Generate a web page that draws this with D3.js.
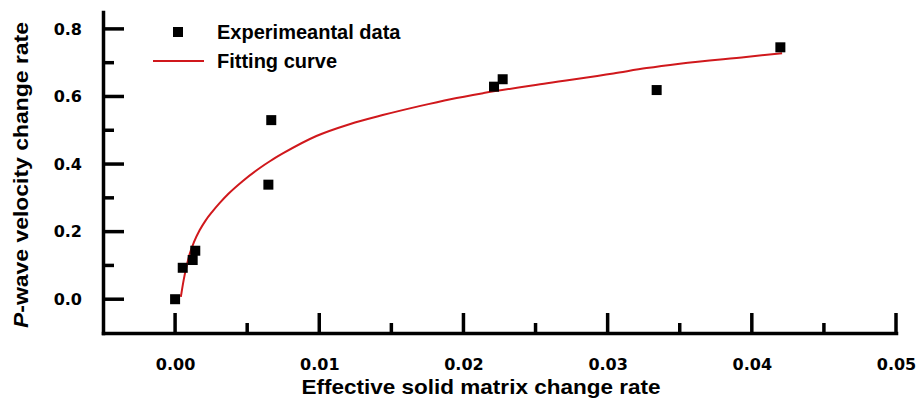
<!DOCTYPE html>
<html>
<head>
<meta charset="utf-8">
<script src="https://cdn.jsdelivr.net/npm/d3@7"></script>
<style>
  body { margin: 0; background: #fff; }
  svg text { font-family: "Liberation Sans", Arial, sans-serif; font-weight: bold; fill: #000; }
  .axis path { stroke: #000; stroke-width: 3.5px; stroke-linecap: square; }
</style>
</head>
<body>
<div id="chart"></div>
<script>
// measured points
const expX = [0.0000, 0.00053, 0.00122, 0.0014, 0.00647, 0.00667, 0.02212, 0.02272, 0.0334, 0.04198];
const expY = [0.000, 0.093, 0.116, 0.1435, 0.339, 0.530, 0.629, 0.651, 0.619, 0.7455];

// fitting curve
const fitX = [0.0004, 0.0006, 0.0008, 0.001, 0.0013, 0.0017, 0.0021, 0.0026, 0.0031, 0.0037, 0.0047,
              0.0059, 0.0066, 0.0075, 0.0098, 0.0121, 0.0144, 0.0168, 0.0191, 0.0214, 0.0258,
              0.0304, 0.0327, 0.0350, 0.0396, 0.0421];
const fitY = [0.007, 0.058, 0.098, 0.132, 0.168, 0.204, 0.232, 0.260, 0.285, 0.312, 0.350,
              0.389, 0.409, 0.432, 0.483, 0.518, 0.545, 0.570, 0.592, 0.610, 0.639,
              0.668, 0.684, 0.697, 0.717, 0.728];

const xMajor = [0, 0.01, 0.02, 0.03, 0.04, 0.05];
const xMinor = [0.005, 0.015, 0.025, 0.035, 0.045];
const yMajor = [0, 0.2, 0.4, 0.6, 0.8];
const yMinor = [0.1, 0.3, 0.5, 0.7];

const legendLabels = ["Experimeantal data", "Fitting curve"];

const width = 922, height = 404;
const red = "#d0181c";

const svg = d3.select("#chart").append("svg")
    .attr("width", width)
    .attr("height", height);

const x = d3.scaleLinear().domain([-0.005, 0.05]).range([103, 896]);
const y = d3.scaleLinear().domain([-0.1, 0.85]).range([333, 12]);
const x0 = x(-0.005), y0 = y(-0.1);

// axes: labels + domain line from d3, ticks drawn below (inward)
svg.append("g").attr("class", "axis")
    .attr("transform", `translate(0,${y0})`)
    .call(d3.axisBottom(x).tickValues(xMajor).tickFormat(d3.format(".2f"))
        .tickSize(0).tickPadding(26));
svg.append("g").attr("class", "axis")
    .attr("transform", `translate(${x0},0)`)
    .call(d3.axisLeft(y).tickValues(yMajor).tickFormat(d3.format(".1f"))
        .tickSize(0).tickPadding(21));

svg.selectAll(".tick line").remove();
svg.selectAll(".tick text")
    .style("font-family", "'DejaVu Sans', sans-serif")
    .style("font-size", "16px")
    .style("font-weight", "bold");

const ticks = svg.append("g").attr("stroke", "#000").attr("stroke-width", 3.5);
const xTicks = xMajor.map(v => [v, 20]).concat(xMinor.map(v => [v, 10]));
ticks.selectAll("line.xt")
    .data(xTicks)
    .join("line")
    .attr("class", "xt")
    .attr("x1", d => x(d[0])).attr("x2", d => x(d[0]))
    .attr("y1", y0).attr("y2", d => y0 - d[1]);
const yTicks = yMajor.map(v => [v, 21]).concat(yMinor.map(v => [v, 11]));
ticks.selectAll("line.yt")
    .data(yTicks)
    .join("line")
    .attr("class", "yt")
    .attr("y1", d => y(d[0])).attr("y2", d => y(d[0]))
    .attr("x1", x0).attr("x2", d => x0 + d[1]);

// axis titles
svg.append("text")
    .attr("x", 481)
    .attr("y", 394)
    .attr("text-anchor", "middle")
    .attr("textLength", 359)
    .attr("lengthAdjust", "spacingAndGlyphs")
    .style("font-size", "21px")
    .text("Effective solid matrix change rate");

const yTitle = svg.append("text")
    .attr("transform", "translate(28,175) rotate(-90)")
    .attr("text-anchor", "middle")
    .attr("textLength", 306)
    .attr("lengthAdjust", "spacingAndGlyphs")
    .style("font-size", "21px");
yTitle.append("tspan").style("font-style", "italic").text("P");
yTitle.append("tspan").text("-wave velocity change rate");

// fitting curve
const fitData = fitX.map((d, i) => [d, fitY[i]]);
svg.append("path")
    .datum(fitData)
    .attr("fill", "none")
    .attr("stroke", red)
    .attr("stroke-width", 2)
    .attr("d", d3.line().x(d => x(d[0])).y(d => y(d[1])).curve(d3.curveMonotoneX));

// experimental points
const sq = 10;
svg.selectAll("rect.pt")
    .data(expX.map((d, i) => [d, expY[i]]))
    .join("rect")
    .attr("class", "pt")
    .attr("x", d => x(d[0]) - sq / 2)
    .attr("y", d => y(d[1]) - sq / 2)
    .attr("width", sq)
    .attr("height", sq)
    .attr("fill", "#000");

// legend
const legend = svg.append("g");
legend.append("rect")
    .attr("x", 178 - sq / 2).attr("y", 32 - sq / 2)
    .attr("width", sq).attr("height", sq)
    .attr("fill", "#000");
legend.append("line")
    .attr("x1", 153).attr("x2", 204)
    .attr("y1", 61).attr("y2", 61)
    .attr("stroke", red).attr("stroke-width", 2);
legend.selectAll("text.lg")
    .data(legendLabels)
    .join("text")
    .attr("class", "lg")
    .attr("x", 217)
    .attr("y", (d, i) => 39 + i * 29)
    .style("font-size", "20px")
    .text(d => d);
</script>
</body>
</html>
